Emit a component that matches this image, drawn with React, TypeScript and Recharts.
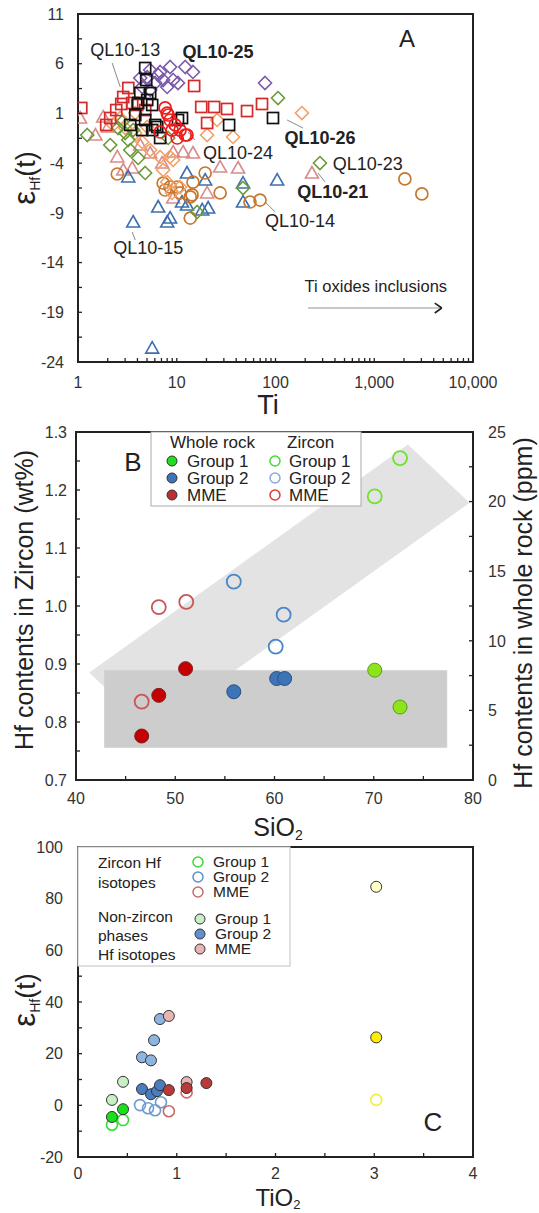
import React from 'react';
import { ScatterChart, Scatter, XAxis, YAxis, ReferenceArea, ReferenceLine } from 'recharts';

const FONT = '"Liberation Sans", Arial, Helvetica, sans-serif';
const INK = '#222';
const TM = 6;

// ---------------- Panel A data (Ti vs eHf(t)) ----------------
const redSquaresA = [
  { x: 1.08, y: 1.55 }, { x: 3.23, y: 3.56 }, { x: 2.87, y: 2.65 }, { x: 2.44, y: 1.34 }, { x: 1.93, y: -0.16 },
  { x: 2.74, y: 1.95 }, { x: 3.98, y: 1.85 }, { x: 3.54, y: 2.05 }, { x: 2.12, y: 0.54 }, { x: 4.79, y: 1.34 },
  { x: 15.0, y: 3.76 }, { x: 17.7, y: 1.65 }, { x: 23.9, y: 1.65 }, { x: 32.3, y: 1.45 }, { x: 20.3, y: 0.04 },
  { x: 51.5, y: 1.24 }, { x: 73.0, y: 1.95 },
];
const blackSquaresA = [
  { x: 4.79, y: 5.57 }, { x: 4.91, y: 4.36 }, { x: 4.27, y: 3.05 }, { x: 5.38, y: 3.05 }, { x: 5.02, y: 2.35 },
  { x: 4.07, y: 2.05 }, { x: 5.64, y: 1.85 }, { x: 3.8, y: 0.84 }, { x: 4.79, y: 0.34 }, { x: 6.05, y: -0.16 },
  { x: 5.64, y: -0.67 }, { x: 4.47, y: -0.67 }, { x: 6.34, y: -0.36 }, { x: 3.38, y: -0.16 }, { x: 6.79, y: -1.47 },
  { x: 10.3, y: 0.34 }, { x: 11.3, y: 0.54 }, { x: 33.9, y: -0.16 }, { x: 94.3, y: 0.54 },
];
const purpleDiamondsA = [
  { x: 5.38, y: 5.37 }, { x: 6.49, y: 4.87 }, { x: 8.57, y: 5.67 }, { x: 12.2, y: 5.67 }, { x: 14.6, y: 5.17 },
  { x: 5.02, y: 4.66 }, { x: 4.27, y: 4.56 }, { x: 6.05, y: 4.06 }, { x: 7.28, y: 4.36 }, { x: 9.2, y: 4.36 },
  { x: 4.47, y: 3.66 }, { x: 10.3, y: 4.06 }, { x: 8.0, y: 3.66 }, { x: 5.38, y: 3.36 }, { x: 6.79, y: 5.17 },
  { x: 78.3, y: 4.06 },
];
const greenDiamondsA = [
  { x: 1.24, y: -1.17 }, { x: 2.12, y: -2.18 }, { x: 2.8, y: 0.14 }, { x: 3.01, y: -0.97 }, { x: 3.38, y: -2.68 },
  { x: 4.07, y: -3.48 }, { x: 4.79, y: -4.99 }, { x: 8.19, y: -1.47 }, { x: 3.23, y: -1.67 }, { x: 3.62, y: -0.67 },
  { x: 2.55, y: -0.47 }, { x: 106, y: 2.55 }, { x: 282, y: -3.99 }, { x: 46.9, y: -6.5 }, { x: 16.1, y: -8.91 },
];
const orangeDiamondsA = [
  { x: 3.01, y: -0.47 }, { x: 3.8, y: -0.97 }, { x: 4.47, y: -1.87 }, { x: 5.02, y: -0.36 }, { x: 3.8, y: 1.04 },
  { x: 5.38, y: -2.68 }, { x: 6.79, y: -3.38 }, { x: 8.57, y: -3.38 }, { x: 7.28, y: -4.69 }, { x: 9.2, y: -3.68 },
  { x: 8.0, y: -5.9 }, { x: 8.98, y: -7.0 }, { x: 10.8, y: -6.4 }, { x: 20.3, y: -1.17 }, { x: 25.6, y: 0.34 },
  { x: 37.2, y: -1.37 }, { x: 185, y: 1.04 }, { x: 2.27, y: -0.16 }, { x: 2.67, y: 0.54 },
];
const pinkTrianglesA = [
  { x: 1.05, y: 0.54 }, { x: 1.8, y: 0.64 }, { x: 2.02, y: -0.36 }, { x: 1.5, y: -1.17 }, { x: 2.5, y: -3.38 },
  { x: 2.87, y: -4.69 }, { x: 3.54, y: -4.49 }, { x: 4.27, y: -2.18 }, { x: 5.38, y: -2.98 }, { x: 7.11, y: -3.99 },
  { x: 9.2, y: -2.88 }, { x: 11.6, y: -2.88 }, { x: 14.6, y: -2.98 }, { x: 27.5, y: -4.39 }, { x: 41.8, y: -4.49 },
  { x: 20.3, y: -7.0 }, { x: 9.2, y: -7.51 }, { x: 234, y: -4.99 },
];
const blueTrianglesA = [
  { x: 3.23, y: -5.39 }, { x: 12.7, y: -4.99 }, { x: 19.4, y: -5.7 }, { x: 46.9, y: -6.0 }, { x: 104, y: -5.7 },
  { x: 6.49, y: -8.41 }, { x: 3.62, y: -9.92 }, { x: 8.0, y: -9.92 }, { x: 8.57, y: -9.52 }, { x: 11.3, y: -7.91 },
  { x: 18.1, y: -8.71 }, { x: 46.9, y: -7.91 }, { x: 12.7, y: -8.21 }, { x: 20.8, y: -8.51 }, { x: 5.64, y: -22.6 },
];
const brownCirclesA = [
  { x: 2.5, y: -5.09 }, { x: 7.28, y: -6.0 }, { x: 8.57, y: -6.4 }, { x: 10.1, y: -6.4 }, { x: 14.6, y: -5.9 },
  { x: 19.4, y: -4.99 }, { x: 27.5, y: -7.0 }, { x: 13.7, y: -7.4 }, { x: 10.8, y: -7.0 }, { x: 55.2, y: -7.91 },
  { x: 69.7, y: -7.71 }, { x: 13.7, y: -9.52 }, { x: 14.3, y: -7.2 }, { x: 7.63, y: -6.7 }, { x: 2042, y: -5.59 },
  { x: 3034, y: -7.1 },
];
const redCirclesA = [
  { x: 8.0, y: 1.04 }, { x: 8.57, y: 0.34 }, { x: 9.63, y: -0.16 }, { x: 12.2, y: -1.17 }, { x: 10.8, y: -0.67 },
  { x: 8.98, y: -0.67 }, { x: 6.79, y: -0.87 }, { x: 10.1, y: -1.47 }, { x: 8.19, y: 0.84 }, { x: 12.7, y: -1.17 },
  { x: 7.63, y: 1.55 },
];
const sampleNotesA = [
  { x: 3.01, y: 7.38, text: 'QL10-13', bold: false },
  { x: 26.2, y: 7.18, text: 'QL10-25', bold: true },
  { x: 41.8, y: -2.98, text: 'QL10-24', bold: false },
  { x: 282, y: -1.47, text: 'QL10-26', bold: true },
  { x: 861, y: -3.99, text: 'QL10-23', bold: false },
  { x: 380, y: -6.9, text: 'QL10-21', bold: true },
  { x: 177, y: -9.82, text: 'QL10-14', bold: false },
  { x: 5.14, y: -12.53, text: 'QL10-15', bold: false },
];
const arrowNoteA = [{ x: 1038, y: -16.36, text: 'Ti oxides inclusions', bold: false }];
const leadersA = [
  [{ x: 2.22, y: 6.07 }, { x: 2.68, y: 3.66 }],
  [{ x: 15.3, y: -1.67 }, { x: 13.0, y: -0.87 }],
  [{ x: 131, y: 0.34 }, { x: 190, y: -0.47 }],
  [{ x: 269, y: -4.99 }, { x: 318, y: -5.9 }],
  [{ x: 78.5, y: -7.91 }, { x: 99.3, y: -8.91 }],
  [{ x: 3.54, y: -10.93 }, { x: 3.8, y: -11.73 }],
];
const arrowA = [{ x: 213, y: -18.57 }, { x: 4830, y: -18.57 }];
const arrowHeadA = [
  [{ x: 4100, y: -18.07 }, { x: 4830, y: -18.57 }],
  [{ x: 4100, y: -19.07 }, { x: 4830, y: -18.57 }],
];
const xTicksA = [1, 2, 3, 4, 5, 6, 7, 8, 9, 10, 20, 30, 40, 50, 60, 70, 80, 90, 100, 200, 300, 400, 500, 600, 700, 800, 900,
  1000, 2000, 3000, 4000, 5000, 6000, 7000, 8000, 9000, 10000];
const xLabelsA = [1, 10, 100, 1000, 10000];
const yTicksA = [-24, -21.5, -19, -16.5, -14, -11.5, -9, -6.5, -4, -1.5, 1, 3.5, 6, 8.5, 11];

// ---------------- Panel B data (SiO2 vs Hf) ----------------
const zirconMmeB = [{ x: 48.34, y: 0.998 }, { x: 51.11, y: 1.007 }, { x: 46.62, y: 0.835 }];
const zirconG2B = [{ x: 55.9, y: 1.042 }, { x: 60.92, y: 0.985 }, { x: 60.12, y: 0.93 }];
const zirconG1B = [{ x: 72.65, y: 1.255 }, { x: 70.1, y: 1.189 }];
const wholeMmeB = [{ x: 51.04, y: 8.0 }, { x: 48.34, y: 6.08 }, { x: 46.62, y: 3.16 }];
const wholeG2B = [{ x: 55.9, y: 6.34 }, { x: 60.22, y: 7.29 }, { x: 61.02, y: 7.29 }];
const wholeG1B = [{ x: 70.1, y: 7.89 }, { x: 72.65, y: 5.24 }];
const bandB = [{ x: 41.35, y: 0.885 }, { x: 73.45, y: 1.278 }, { x: 79.62, y: 1.178 }, { x: 47.5, y: 0.785 }];
const boxB = [{ x: 42.84, y: 0.889 }, { x: 77.37, y: 0.889 }, { x: 77.37, y: 0.756 }, { x: 42.84, y: 0.756 }];
const xTicksB = [40, 45, 50, 55, 60, 65, 70, 75, 80];
const yTicksB = [0.7, 0.75, 0.8, 0.85, 0.9, 0.95, 1.0, 1.05, 1.1, 1.15, 1.2, 1.25, 1.3];
const y2TicksB = [0, 2.5, 5, 7.5, 10, 12.5, 15, 17.5, 20, 22.5, 25];

// ---------------- Panel C data (TiO2 vs eHf(t)) ----------------
const zirconG1C = [{ x: 0.344, y: -7.5 }, { x: 0.456, y: -5.7 }];
const zirconG2C = [{ x: 0.628, y: 0.1 }, { x: 0.709, y: -1.1 }, { x: 0.78, y: -1.9 }, { x: 0.84, y: 1.2 }];
const zirconMmeC = [{ x: 0.92, y: -2.3 }, { x: 1.1, y: 5.0 }];
const zirconYellowC = [{ x: 3.02, y: 2.1 }];
const phaseG1C = [{ x: 0.344, y: 2.1 }, { x: 0.456, y: 9.1 }];
const phaseG1bC = [{ x: 0.344, y: -4.5 }, { x: 0.456, y: -1.5 }];
const phaseG2lightC = [{ x: 0.648, y: 18.6 }, { x: 0.739, y: 17.4 }, { x: 0.77, y: 25.2 }, { x: 0.83, y: 33.4 }];
const phaseG2darkC = [{ x: 0.648, y: 6.3 }, { x: 0.739, y: 4.3 }, { x: 0.8, y: 5.5 }, { x: 0.83, y: 7.8 }];
const phaseMmePinkC = [{ x: 0.92, y: 34.6 }, { x: 1.1, y: 9.0 }];
const phaseMmeDarkC = [{ x: 0.92, y: 5.9 }, { x: 1.1, y: 6.7 }, { x: 1.3, y: 8.6 }];
const phaseYellowC = [{ x: 3.02, y: 26.3 }];
const phasePaleYellowC = [{ x: 3.02, y: 84.6 }];
const xTicksC = [0, 0.5, 1, 1.5, 2, 2.5, 3, 3.5, 4];
const yTicksC = [-20, -10, 0, 10, 20, 30, 40, 50, 60, 70, 80, 90, 100];

// ---------------- helpers ----------------
const tickLeft = (fmt: (v: number) => string, gap: number, fs = 16, len = 4) => (p: any) => {
  const v = p.payload.value;
  const ax = p.x + TM;
  const s = fmt(v);
  return (
    <g>
      <line x1={ax} x2={ax + len} y1={p.y} y2={p.y} stroke={INK} strokeWidth={1.3} />
      {s !== '' && (
        <text x={ax - gap} y={p.y} dy="0.36em" textAnchor="end" fontSize={fs} fontFamily={FONT} fill="#333">{s}</text>
      )}
    </g>
  );
};
const tickRight = (fmt: (v: number) => string, gap: number, fs = 16, len = 4) => (p: any) => {
  const v = p.payload.value;
  const ax = p.x - TM;
  const s = fmt(v);
  return (
    <g>
      <line x1={ax} x2={ax - len} y1={p.y} y2={p.y} stroke={INK} strokeWidth={1.3} />
      {s !== '' && (
        <text x={ax + gap} y={p.y} dy="0.36em" textAnchor="start" fontSize={fs} fontFamily={FONT} fill="#333">{s}</text>
      )}
    </g>
  );
};
const tickBottom = (fmt: (v: number) => string, off: number, fs = 16, len = 4) => (p: any) => {
  const v = p.payload.value;
  const ay = p.y - TM;
  const s = fmt(v);
  return (
    <g>
      <line x1={p.x} x2={p.x} y1={ay} y2={ay - len} stroke={INK} strokeWidth={1.3} />
      {s !== '' && (
        <text x={p.x} y={ay + off} dy="0.36em" textAnchor="middle" fontSize={fs} fontFamily={FONT} fill="#333">{s}</text>
      )}
    </g>
  );
};

const square = (c: string) => (p: any) => (
  <rect x={p.cx - 5.5} y={p.cy - 5.5} width={11} height={11} fill="none" stroke={c} strokeWidth={1.7} />
);
const diamond = (c: string) => (p: any) => (
  <path d={`M${p.cx},${p.cy - 6.5}L${p.cx + 6.5},${p.cy}L${p.cx},${p.cy + 6.5}L${p.cx - 6.5},${p.cy}Z`} fill="none" stroke={c} strokeWidth={1.6} />
);
const triangle = (c: string) => (p: any) => (
  <path d={`M${p.cx},${p.cy - 6.5}L${p.cx + 6.5},${p.cy + 5}L${p.cx - 6.5},${p.cy + 5}Z`} fill="none" stroke={c} strokeWidth={1.6} />
);
const ring = (c: string, r: number, w = 1.7) => (p: any) => (
  <circle cx={p.cx} cy={p.cy} r={r} fill="none" stroke={c} strokeWidth={w} />
);
const disc = (c: string, r: number, edge = '#333') => (p: any) => (
  <circle cx={p.cx} cy={p.cy} r={r} fill={c} stroke={edge} strokeWidth={1} />
);
const hidden = () => <g />;
const noteShape = (fs: number) => (p: any) => (
  <text x={p.cx} y={p.cy} dy="0.36em" textAnchor="middle" fontSize={fs} fontFamily={FONT}
    fontWeight={p.payload.bold ? 'bold' : 'normal'} fill="#222">{p.payload.text}</text>
);

const axisLine = { stroke: INK, strokeWidth: 2 };

const EpsLabel = ({ cx, cy }: { cx: number; cy: number }) => (
  <text transform={`translate(${cx},${cy}) rotate(-90)`} textAnchor="middle" fontFamily={FONT} fill="#222">
    <tspan fontSize={31} dy={10}>ε</tspan>
    <tspan fontSize={14} dy={5}>Hf</tspan>
    <tspan fontSize={27} dy={-5}>(t)</tspan>
  </text>
);

const Overlay = () => (
  <svg width={539} height={1213} style={{ position: 'absolute', left: 0, top: 0, pointerEvents: 'none' }}>
    {/* Panel A titles */}
    <text x={407} y={47} fontSize={24} fontFamily={FONT} fill="#222" textAnchor="middle">A</text>
    <EpsLabel cx={25} cy={178} />
    <text x={268} y={414} fontSize={27} fontFamily={FONT} fill="#222" textAnchor="middle">Ti</text>

    {/* Panel B */}
    <rect x={151} y={432} width={210} height={74} fill="#fff" stroke="#aaa" strokeWidth={1} />
    <g fontFamily={FONT} fontSize={17} fill="#222">
      <text x={170} y={448}>Whole rock</text>
      <text x={287} y={448}>Zircon</text>
      <circle cx={172} cy={461} r={5} fill="#22dd22" stroke="#333" strokeWidth={1} />
      <circle cx={172} cy={478} r={5} fill="#3d74b8" stroke="#333" strokeWidth={1} />
      <circle cx={172} cy={495} r={5} fill="#b83030" stroke="#333" strokeWidth={1} />
      <text x={187} y={467}>Group 1</text>
      <text x={187} y={484}>Group 2</text>
      <text x={187} y={501}>MME</text>
      <circle cx={275} cy={461} r={5} fill="none" stroke="#44dd33" strokeWidth={1.5} />
      <circle cx={275} cy={478} r={5} fill="none" stroke="#88aadd" strokeWidth={1.5} />
      <circle cx={275} cy={495} r={5} fill="none" stroke="#dd3b3b" strokeWidth={1.5} />
      <text x={289} y={467}>Group 1</text>
      <text x={289} y={484}>Group 2</text>
      <text x={289} y={501}>MME</text>
    </g>
    <text x={133} y={471} fontSize={26} fontFamily={FONT} fill="#222" textAnchor="middle">B</text>
    <text transform="translate(24,600) rotate(-90)" textAnchor="middle" fontSize={25} fontFamily={FONT} fill="#222" dy={9}>Hf contents in Zircon (wt%)</text>
    <text transform="translate(523,613) rotate(-90)" textAnchor="middle" fontSize={25} fontFamily={FONT} fill="#222" dy={9}>Hf contents in whole rock (ppm)</text>
    <text x={278} y={836} textAnchor="middle" fontFamily={FONT} fill="#222">
      <tspan fontSize={25}>SiO</tspan><tspan fontSize={14} dy={4}>2</tspan>
    </text>

    {/* Panel C */}
    <rect x={78} y={847} width={212} height={119} fill="#fff" stroke="#ccc" strokeWidth={1.2} />
    <g fontFamily={FONT} fontSize={15.5} fill="#222">
      <text x={98} y={868}>Zircon Hf</text>
      <text x={98} y={888}>isotopes</text>
      <circle cx={198} cy={862} r={5} fill="none" stroke="#33dd33" strokeWidth={1.5} />
      <circle cx={198} cy={877} r={5} fill="none" stroke="#5f8fcc" strokeWidth={1.5} />
      <circle cx={198} cy={892} r={5} fill="none" stroke="#cc6a6a" strokeWidth={1.5} />
      <text x={213} y={867}>Group 1</text>
      <text x={213} y={882}>Group 2</text>
      <text x={213} y={897}>MME</text>
      <text x={98} y={922}>Non-zircon</text>
      <text x={98} y={941}>phases</text>
      <text x={98} y={960}>Hf isotopes</text>
      <circle cx={200} cy={919} r={5} fill="#c8f0c4" stroke="#333" strokeWidth={1} />
      <circle cx={200} cy={934} r={5} fill="#5f8fcc" stroke="#333" strokeWidth={1} />
      <circle cx={200} cy={949} r={5} fill="#e9b4b4" stroke="#333" strokeWidth={1} />
      <text x={215} y={924}>Group 1</text>
      <text x={215} y={939}>Group 2</text>
      <text x={215} y={954}>MME</text>
    </g>
    <text x={433} y={1131} fontSize={26} fontFamily={FONT} fill="#222" textAnchor="middle">C</text>
    <EpsLabel cx={25} cy={1000} />
    <text x={278} y={1206} textAnchor="middle" fontFamily={FONT} fill="#222">
      <tspan fontSize={24}>TiO</tspan><tspan fontSize={13} dy={3}>2</tspan>
    </text>
  </svg>
);

const fmtA = (v: number) => (xLabelsA.includes(v) ? v.toLocaleString('en-US') : '');

export default function App() {
  return (
    <div style={{ position: 'absolute', left: 0, top: 0, width: 539, height: 1213, background: '#fff', overflow: 'hidden' }}>
      {/* ---------- Panel A ---------- */}
      <div style={{ position: 'absolute', left: 0, top: 0 }}>
        <ScatterChart width={539} height={420} margin={{ top: 14, right: 66, bottom: 28, left: 18 }}>
          <XAxis dataKey="x" type="number" scale="log" domain={[1, 10000]} allowDataOverflow ticks={xTicksA} interval={0}
            height={30} tickSize={0} tickMargin={TM} tickLine={false} axisLine={axisLine} tick={tickBottom(fmtA, 20)} />
          <YAxis dataKey="y" type="number" domain={[-24, 11]} allowDataOverflow ticks={yTicksA} interval={0}
            width={60} tickSize={0} tickMargin={TM} tickLine={false} axisLine={axisLine}
            tick={tickLeft((v) => (Number.isInteger(v) ? String(v) : ''), 14)} />
          <ReferenceArea x1={1} x2={10000} y1={-24} y2={11} fill="none" fillOpacity={0} stroke={INK} strokeWidth={2} ifOverflow="visible" />
          <Scatter data={pinkTrianglesA} shape={triangle('#d98b8b')} isAnimationActive={false} />
          <Scatter data={blueTrianglesA} shape={triangle('#3d6fae')} isAnimationActive={false} />
          <Scatter data={brownCirclesA} shape={ring('#c8772e', 6)} isAnimationActive={false} />
          <Scatter data={orangeDiamondsA} shape={diamond('#f2a066')} isAnimationActive={false} />
          <Scatter data={greenDiamondsA} shape={diamond('#6a9a37')} isAnimationActive={false} />
          <Scatter data={redSquaresA} shape={square('#d42a2a')} isAnimationActive={false} />
          <Scatter data={purpleDiamondsA} shape={diamond('#7b5aab')} isAnimationActive={false} />
          <Scatter data={blackSquaresA} shape={square('#111')} isAnimationActive={false} />
          <Scatter data={redCirclesA} shape={ring('#ee1c1c', 6)} isAnimationActive={false} />
          {leadersA.map((seg, i) => (
            <ReferenceLine key={`l${i}`} segment={seg} stroke="#888" strokeWidth={1} ifOverflow="visible" />
          ))}
          <ReferenceLine segment={arrowA} stroke="#c8c8c8" strokeWidth={2} ifOverflow="visible" />
          {arrowHeadA.map((seg, i) => (
            <ReferenceLine key={`h${i}`} segment={seg} stroke="#222" strokeWidth={1.6} ifOverflow="visible" />
          ))}
          <Scatter data={sampleNotesA} shape={noteShape(18)} isAnimationActive={false} />
          <Scatter data={arrowNoteA} shape={noteShape(16.5)} isAnimationActive={false} />
        </ScatterChart>
      </div>

      {/* ---------- Panel B ---------- */}
      <div style={{ position: 'absolute', left: 0, top: 420 }}>
        <ScatterChart width={539} height={420} margin={{ top: 12, right: 16, bottom: 30, left: 16 }}>
          <XAxis dataKey="x" type="number" domain={[40, 80]} allowDataOverflow ticks={xTicksB} interval={0}
            height={30} tickSize={0} tickMargin={TM} tickLine={false} axisLine={axisLine}
            tick={tickBottom((v) => (v % 10 === 0 ? String(v) : ''), 18)} />
          <YAxis yAxisId="left" dataKey="y" type="number" domain={[0.7, 1.3]} allowDataOverflow ticks={yTicksB} interval={0}
            width={60} tickSize={0} tickMargin={TM} tickLine={false} axisLine={axisLine}
            tick={tickLeft((v) => (Math.round(v * 100) % 10 === 0 ? v.toFixed(1) : ''), 9)} />
          <YAxis yAxisId="right" orientation="right" dataKey="y" type="number" domain={[0, 25]} allowDataOverflow ticks={y2TicksB} interval={0}
            width={50} tickSize={0} tickMargin={TM} tickLine={false} axisLine={axisLine}
            tick={tickRight((v) => (v % 5 === 0 ? String(v) : ''), 15)} />
          <ReferenceArea yAxisId="left" x1={40} x2={80} y1={0.7} y2={1.3} fill="none" fillOpacity={0} stroke={INK} strokeWidth={2} ifOverflow="visible" />
          <Scatter yAxisId="left" data={bandB} shape={hidden} line={{ fill: '#e3e3e3', stroke: '#e3e3e3', strokeWidth: 0.5 }} lineType="joint" isAnimationActive={false} />
          <Scatter yAxisId="left" data={boxB} shape={hidden} line={{ fill: '#cdcdcd', stroke: '#cdcdcd', strokeWidth: 0.5 }} lineType="joint" isAnimationActive={false} />
          <Scatter yAxisId="left" data={zirconMmeB} shape={ring('#c95555', 7, 1.8)} isAnimationActive={false} />
          <Scatter yAxisId="left" data={zirconG2B} shape={ring('#4a86c8', 7, 1.8)} isAnimationActive={false} />
          <Scatter yAxisId="left" data={zirconG1B} shape={ring('#6fe22a', 7, 1.8)} isAnimationActive={false} />
          <Scatter yAxisId="right" data={wholeMmeB} shape={disc('#c40000', 7, '#7a2020')} isAnimationActive={false} />
          <Scatter yAxisId="right" data={wholeG2B} shape={disc('#3d74b8', 7, '#2a4f80')} isAnimationActive={false} />
          <Scatter yAxisId="right" data={wholeG1B} shape={disc('#8ee41a', 7, '#5a9a20')} isAnimationActive={false} />
        </ScatterChart>
      </div>

      {/* ---------- Panel C ---------- */}
      <div style={{ position: 'absolute', left: 0, top: 840 }}>
        <ScatterChart width={539} height={373} margin={{ top: 7, right: 66, bottom: 26, left: 18 }}>
          <XAxis dataKey="x" type="number" domain={[0, 4]} allowDataOverflow ticks={xTicksC} interval={0}
            height={30} tickSize={0} tickMargin={TM} tickLine={false} axisLine={axisLine}
            tick={tickBottom((v) => (Number.isInteger(v) ? String(v) : ''), 16)} />
          <YAxis dataKey="y" type="number" domain={[-20, 100]} allowDataOverflow ticks={yTicksC} interval={0}
            width={60} tickSize={0} tickMargin={TM} tickLine={false} axisLine={axisLine}
            tick={tickLeft((v) => (v % 20 === 0 ? String(v) : ''), 15)} />
          <ReferenceArea x1={0} x2={4} y1={-20} y2={100} fill="none" fillOpacity={0} stroke={INK} strokeWidth={2} ifOverflow="visible" />
          <Scatter data={zirconG1C} shape={ring('#33dd33', 5.5, 1.6)} isAnimationActive={false} />
          <Scatter data={zirconG2C} shape={ring('#6f9bd2', 5.5, 1.6)} isAnimationActive={false} />
          <Scatter data={zirconMmeC} shape={ring('#cc6a6a', 5.5, 1.6)} isAnimationActive={false} />
          <Scatter data={zirconYellowC} shape={ring('#f2ee3a', 5.5, 1.6)} isAnimationActive={false} />
          <Scatter data={phaseG1C} shape={disc('#c8f0c4', 5.5)} isAnimationActive={false} />
          <Scatter data={phaseG1bC} shape={disc('#19e019', 5.5)} isAnimationActive={false} />
          <Scatter data={phaseG2lightC} shape={disc('#8fb4e0', 5.5)} isAnimationActive={false} />
          <Scatter data={phaseG2darkC} shape={disc('#4a7cc0', 5.5)} isAnimationActive={false} />
          <Scatter data={phaseMmePinkC} shape={disc('#e9b4b4', 5.5)} isAnimationActive={false} />
          <Scatter data={phaseMmeDarkC} shape={disc('#b83a3a', 5.5)} isAnimationActive={false} />
          <Scatter data={phaseYellowC} shape={disc('#ffee00', 5.5)} isAnimationActive={false} />
          <Scatter data={phasePaleYellowC} shape={disc('#ffffc8', 5.5)} isAnimationActive={false} />
        </ScatterChart>
      </div>

      <Overlay />
    </div>
  );
}
